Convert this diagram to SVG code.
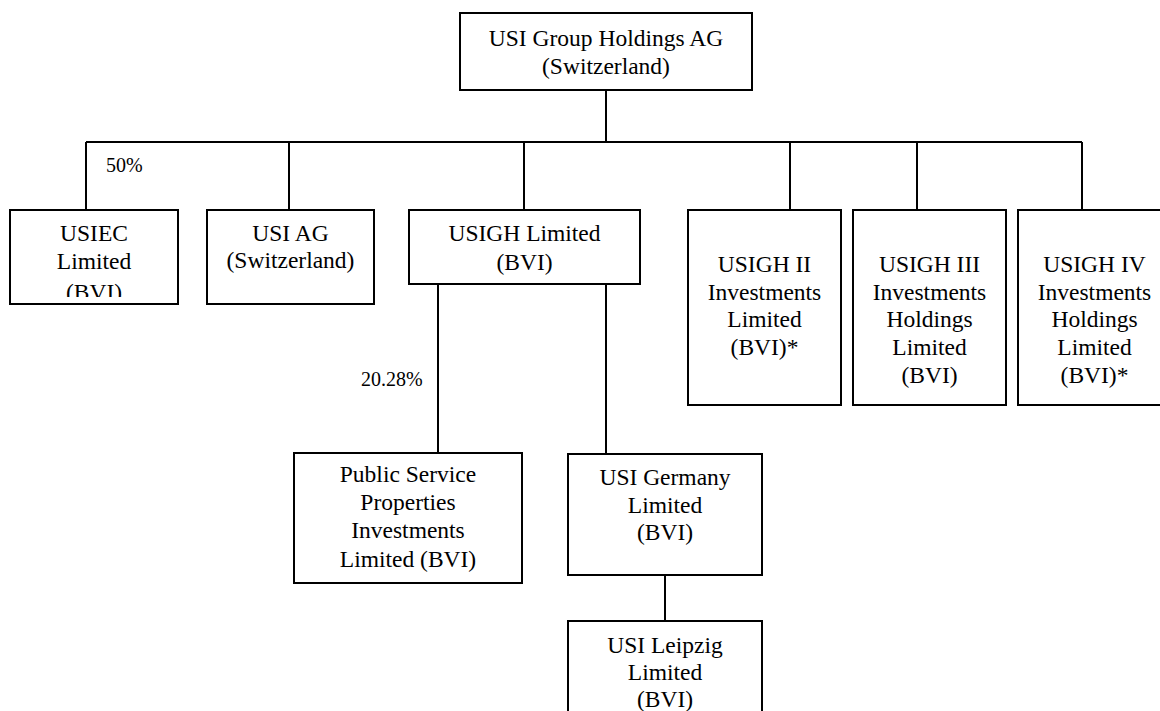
<svg xmlns="http://www.w3.org/2000/svg" width="1160" height="711" viewBox="0 0 1160 711">
<style>
.box{fill:#fff;stroke:#000;stroke-width:2}
.t{font-family:"Liberation Serif","Times New Roman",serif;font-size:23.5px;text-anchor:middle;fill:#000}
.p{font-family:"Liberation Serif","Times New Roman",serif;font-size:20px;fill:#000}
.c{fill:none;stroke:#000;stroke-width:2}
</style>
<defs>
<clipPath id="clipUsiec"><rect x="10" y="210" width="168" height="87"/></clipPath>
</defs>
<rect width="1160" height="711" fill="#fff"/>
<g id="connectors">
<path class="c" d="M606 90V142M86 142H1082M86 142V210M289 142V210M524 142V210M790 142V210M917 142V210M1082 142V210M438 284V453M606 284V454M665 575V621"/>
</g>
<g id="n-top">
<rect class="box" x="460" y="13" width="292" height="77"/>
<text class="t" x="606" y="46">USI Group Holdings AG</text>
<text class="t" x="606" y="74">(Switzerland)</text>
</g>
<g id="n-usiec">
<rect class="box" x="10" y="210" width="168" height="94"/>
<g clip-path="url(#clipUsiec)">
<text class="t" x="94" y="241">USIEC</text>
<text class="t" x="94" y="269">Limited</text>
<text class="t" x="94" y="300">(BVI)</text>
</g>
</g>
<text id="l-50" class="p" x="106" y="172">50%</text>
<g id="n-usiag">
<rect class="box" x="207" y="210" width="167" height="94"/>
<text class="t" x="290.5" y="241">USI AG</text>
<text class="t" x="290.5" y="268">(Switzerland)</text>
</g>
<g id="n-usigh">
<rect class="box" x="409" y="210" width="231" height="74"/>
<text class="t" x="524.5" y="241">USIGH Limited</text>
<text class="t" x="524.5" y="270">(BVI)</text>
</g>
<g id="n-usigh2">
<rect class="box" x="688" y="210" width="153" height="195"/>
<text class="t" x="764.5" y="272">USIGH II</text>
<text class="t" x="764.5" y="300">Investments</text>
<text class="t" x="764.5" y="327">Limited</text>
<text class="t" x="764.5" y="355">(BVI)*</text>
</g>
<g id="n-usigh3">
<rect class="box" x="853" y="210" width="153" height="195"/>
<text class="t" x="929.5" y="272">USIGH III</text>
<text class="t" x="929.5" y="300">Investments</text>
<text class="t" x="929.5" y="327">Holdings</text>
<text class="t" x="929.5" y="355">Limited</text>
<text class="t" x="929.5" y="383">(BVI)</text>
</g>
<g id="n-usigh4">
<rect class="box" x="1018" y="210" width="153" height="195"/>
<text class="t" x="1094.5" y="272">USIGH IV</text>
<text class="t" x="1094.5" y="300">Investments</text>
<text class="t" x="1094.5" y="327">Holdings</text>
<text class="t" x="1094.5" y="355">Limited</text>
<text class="t" x="1094.5" y="383">(BVI)*</text>
</g>
<text id="l-2028" class="p" x="361" y="386">20.28%</text>
<g id="n-psp">
<rect class="box" x="294" y="453" width="228" height="130"/>
<text class="t" x="408" y="482">Public Service</text>
<text class="t" x="408" y="510">Properties</text>
<text class="t" x="408" y="538">Investments</text>
<text class="t" x="408" y="566.5">Limited (BVI)</text>
</g>
<g id="n-germany">
<rect class="box" x="568" y="454" width="194" height="121"/>
<text class="t" x="665" y="485">USI Germany</text>
<text class="t" x="665" y="513">Limited</text>
<text class="t" x="665" y="540">(BVI)</text>
</g>
<g id="n-leipzig">
<rect class="box" x="568" y="621" width="194" height="110"/>
<text class="t" x="665" y="653">USI Leipzig</text>
<text class="t" x="665" y="680">Limited</text>
<text class="t" x="665" y="707">(BVI)</text>
</g>
</svg>
